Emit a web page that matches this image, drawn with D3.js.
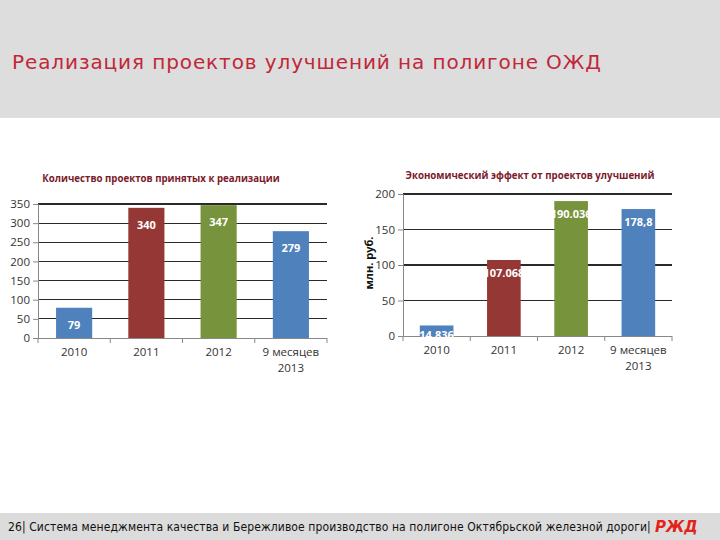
<!DOCTYPE html>
<html><head><meta charset="utf-8">
<script src="https://cdn.jsdelivr.net/npm/d3@7"></script>
<style>body{margin:0;background:#fff}svg{display:block}</style>
</head><body>
<svg id="c" width="720" height="540"></svg>
<script>
const categories = ["2010", "2011", "2012", "9 месяцев 2013"];
const projectCounts = [79, 340, 347, 279];
const projectLabels = ["79", "340", "347", "279"];
const effectValues = [14.836, 107.068, 190.036, 178.8];
const effectLabels = ["14.836", "107.068", "190.036", "178,8"];
const barColors = ["#4f81bd", "#953735", "#77933c", "#4f81bd"];
const leftTicks = [0, 50, 100, 150, 200, 250, 300, 350];
const rightTicks = [0, 50, 100, 150, 200];

const svg = d3.select("#c");
// header band
svg.append("rect").attr("x",0).attr("y",0).attr("width",720).attr("height",118).attr("fill","#dddddd");
svg.append("text").attr("x",12).attr("y",69).attr("font-family","DejaVu Sans").attr("font-size",20)
  .attr("letter-spacing",0.9).attr("fill","#c0283a").text("Реализация проектов улучшений на полигоне ОЖД");
// footer band
svg.append("rect").attr("x",0).attr("y",513).attr("width",720).attr("height",27).attr("fill","#dcdcdc");
svg.append("text").attr("x",8).attr("y",531).attr("font-family","DejaVu Sans Condensed, DejaVu Sans").attr("font-size",12)
  .attr("letter-spacing",0.1).attr("fill","#111").text("26| Система менеджмента качества и Бережливое производство на полигоне Октябрьской железной дороги|");
svg.append("text").attr("x",655).attr("y",532).attr("font-family","DejaVu Sans").attr("font-weight","bold").attr("font-style","italic")
  .attr("font-size",15).attr("fill","#e2231a").text("РЖД");

function drawChart(opt) {
  const g = svg.append("g");
  const x = d3.scaleBand().domain(categories).range([opt.x0, opt.x1]).paddingInner(0.5).paddingOuter(0.25);
  const y = d3.scaleLinear().domain([0, opt.max]).range([opt.y0, opt.y1]);
  // gridlines
  g.append("g").selectAll("line").data(opt.ticks.filter(t => t > 0)).join("line")
    .attr("x1", opt.x0).attr("x2", opt.x1).attr("y1", d => y(d)).attr("y2", d => y(d))
    .attr("stroke", "#2a2a2a").attr("stroke-width", 1.2).attr("shape-rendering","crispEdges");
  // y axis
  const ya = g.append("g").attr("transform", `translate(${opt.x0},0)`)
    .call(d3.axisLeft(y).tickValues(opt.ticks).tickSize(5).tickPadding(3));
  ya.select(".domain").attr("stroke", "#888");
  ya.selectAll(".tick line").attr("stroke", "#888");
  ya.selectAll("text").attr("font-family","Open Sans").attr("font-size",11.5).attr("fill","#333");
  // bars
  g.append("g").selectAll("rect").data(opt.values).join("rect")
    .attr("x", (d,i) => x(categories[i])).attr("width", x.bandwidth())
    .attr("y", d => y(d)).attr("height", d => y(0) - y(d))
    .attr("fill", (d,i) => barColors[i]);
  // x axis
  g.append("line").attr("x1",opt.x0).attr("x2",opt.x1).attr("y1",y(0)+0.5).attr("y2",y(0)+0.5).attr("stroke","#888");
  const bounds = categories.map(c => x(c) - x.step()*x.paddingInner()/2).concat([opt.x1]);
  bounds[0] = opt.x0;
  g.append("g").selectAll("line").data(bounds).join("line")
    .attr("x1", d => d).attr("x2", d => d).attr("y1", y(0)).attr("y2", y(0)+5).attr("stroke","#888");
  const cl = g.append("g").selectAll("text").data(categories).join("text")
    .attr("x", d => x(d) + x.bandwidth()/2).attr("y", y(0) + 18)
    .attr("text-anchor","middle").attr("font-family","Open Sans").attr("font-size",11.5).attr("fill","#333");
  cl.each(function(d) {
    const parts = d === "9 месяцев 2013" ? ["9 месяцев", "2013"] : [d];
    d3.select(this).selectAll("tspan").data(parts).join("tspan")
      .attr("x", x(d) + x.bandwidth()/2).attr("dy", (p,i) => i ? 16 : 0).text(p => p);
  });
  // value labels
  g.append("g").selectAll("text").data(opt.values).join("text")
    .attr("x", (d,i) => x(categories[i]) + x.bandwidth()/2)
    .attr("y", d => Math.min(y(d) + opt.lblOff, y(0) + 3))
    .attr("text-anchor","middle").attr("font-family","Open Sans").attr("font-weight","bold")
    .attr("font-size",11).attr("fill","#fff").text((d,i) => opt.labels[i]);
  // title
  g.append("text").attr("x", opt.tx).attr("y", opt.ty).attr("text-anchor","middle")
    .attr("font-family","Open Sans").attr("font-weight","bold").attr("font-size",9.7)
    .attr("fill","#7b1a2a").text(opt.title);
  return {x, y};
}

drawChart({x0:38, x1:327, y0:338, y1:204, max:350, ticks:leftTicks, values:projectCounts, labels:projectLabels,
  lblOff:21, title:"Количество проектов принятых к реализации", tx:161, ty:182});
drawChart({x0:403, x1:672, y0:336, y1:194, max:200, ticks:rightTicks, values:effectValues, labels:effectLabels,
  lblOff:17, title:"Экономический эффект от проектов улучшений", tx:530, ty:179});

svg.append("text").attr("transform","translate(373,263) rotate(-90)").attr("text-anchor","middle")
  .attr("font-family","Open Sans").attr("font-weight","bold").attr("font-size",11).attr("fill","#111").text("млн. руб.");
</script>
</body></html>
